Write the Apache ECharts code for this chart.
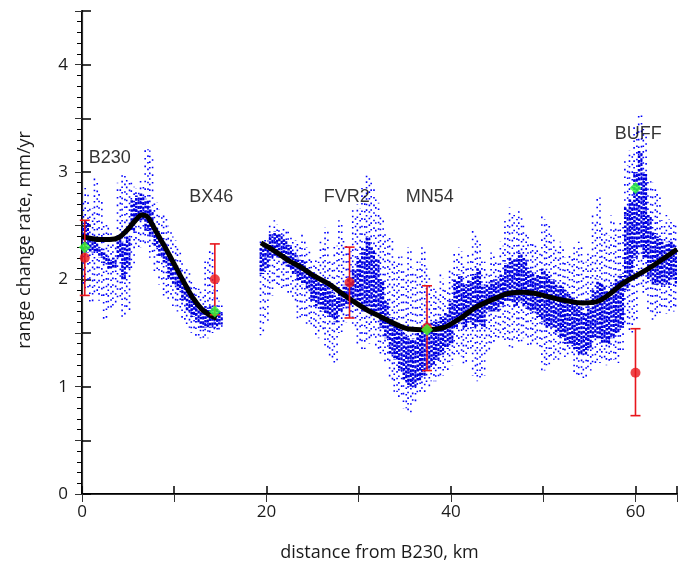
<!DOCTYPE html>
<html>
<head>
<meta charset="utf-8">
<script src="https://cdn.jsdelivr.net/npm/echarts@6/dist/echarts.min.js"></script>
<style>
  html, body { margin: 0; padding: 0; background: #fff; }
  #chart { width: 680px; height: 569px; }
</style>
</head>
<body>
<div id="chart"></div>
<script>
// measurement cloud, read per 0.5 km column: outer extent and dense core
const cloudX = [0,0.5,1,1.5,2, 2.5,3,3.5,4,4.5, 5,5.5,6,6.5,7, 7.5,8,8.5,9,9.5, 10,10.5,11,11.5,12, 12.5,13,13.5,14,14.5, 15,
  19.5,20,20.5,21,21.5, 22,22.5,23,23.5,24, 24.5,25,25.5,26,26.5, 27,27.5,28,28.5,29, 29.5,30,30.5,31,31.5, 32,32.5,33,33.5,34,
  34.5,35,35.5,36,36.5, 37,37.5,38,38.5,39, 39.5,40,40.5,41,41.5, 42,42.5,43,43.5,44, 44.5,45,45.5,46,46.5, 47,47.5,48,48.5,49,
  49.5,50,50.5,51,51.5, 52,52.5,53,53.5,54, 54.5,55,55.5,56,56.5, 57,57.5,58,58.5,59, 59.5,60,60.5,61,61.5, 62,62.5,63,63.5,64, 64.5];
const cloudHi = [2.75,2.85,2.70,2.95,2.80, 2.55,2.50,2.40,2.90,3.00, 2.95,2.90,2.85,2.95,3.25, 3.20,2.75,2.65,2.60,2.50, 2.40,2.30,2.15,2.10,2.00, 1.95,1.90,2.20,2.30,2.00, 1.80,
  2.40,2.40,2.50,2.55,2.50, 2.48,2.45,2.40,2.35,2.43, 2.30,2.20,2.20,2.35,2.48, 2.20,2.35,2.55,2.40,2.30, 2.65,2.70,2.85,2.98,2.90, 2.75,2.60,2.45,2.40,2.20,
  2.25,2.10,2.30,2.10,2.20, 2.30,2.10,1.95,1.90,2.05, 1.95,2.10,2.25,2.30,2.15, 2.25,2.45,2.40,2.20,2.10, 2.25,2.20,2.35,2.55,2.67, 2.60,2.65,2.50,2.40,2.35,
  2.30,2.60,2.55,2.45,2.30, 2.35,2.20,2.25,2.30,2.35, 2.20,2.25,2.60,2.80,2.50, 2.45,2.60,2.50,2.55,3.10, 3.20,3.45,3.57,3.40,2.95, 2.90,2.80,2.55,2.60,2.55, 2.50];
const cloudCoreHi = [2.50,2.55,2.40,2.35,2.30, 2.25,2.20,2.20,2.40,2.35, 2.40,2.75,2.78,2.80,2.75, 2.65,2.50,2.40,2.35,2.25, 2.15,2.10,2.00,1.95,1.85, 1.80,1.75,1.75,1.75,1.75, 1.70,
  2.30,2.32,2.42,2.45,2.42, 2.38,2.32,2.25,2.20,2.18, 2.12,2.05,2.00,1.98,1.95, 1.90,1.85,1.90,1.95,2.00, 2.10,2.20,2.30,2.40,2.30, 2.20,2.00,1.80,1.65,1.60,
  1.55,1.50,1.45,1.45,1.50, 1.55,1.60,1.60,1.62,1.65, 1.70,1.80,2.00,2.05,1.95, 2.00,2.05,2.10,1.95,1.95, 2.00,2.00,2.05,2.15,2.20, 2.20,2.25,2.20,2.10,2.05,
  2.05,2.10,2.05,2.00,1.95, 1.95,1.90,1.85,1.80,1.75, 1.70,1.75,1.90,2.00,1.95, 1.90,1.95,2.00,2.05,2.67, 2.75,3.00,3.20,3.00,2.60, 2.45,2.40,2.35,2.35,2.35, 2.30];
const cloudCoreLo = [2.25,2.25,2.25,2.25,2.20, 2.15,2.10,2.10,2.20,2.00, 2.10,2.45,2.55,2.55,2.45, 2.40,2.30,2.20,2.15,2.00, 1.95,1.90,1.80,1.70,1.65, 1.60,1.55,1.55,1.55,1.55, 1.58,
  2.05,2.10,2.20,2.22,2.20, 2.15,2.10,2.05,1.98,1.95, 1.90,1.80,1.75,1.70,1.68, 1.65,1.60,1.70,1.75,1.75, 1.80,1.75,1.70,1.75,1.70, 1.65,1.55,1.45,1.30,1.25,
  1.15,1.05,1.00,1.00,1.05, 1.10,1.15,1.20,1.25,1.30, 1.35,1.40,1.55,1.60,1.55, 1.60,1.55,1.60,1.55,1.70, 1.70,1.70,1.75,1.80,1.80, 1.75,1.80,1.75,1.70,1.70,
  1.65,1.60,1.55,1.55,1.50, 1.45,1.40,1.40,1.35,1.30, 1.30,1.35,1.45,1.45,1.40, 1.40,1.45,1.50,1.55,1.90, 2.00,2.20,2.30,2.20,2.00, 1.95,1.95,1.95,1.95,2.00, 1.95];
const cloudLo = [1.95,1.90,1.75,1.85,1.80, 1.60,1.70,1.75,1.80,1.65, 1.70,2.10,2.30,2.30,2.30, 2.20,2.05,1.95,1.85,1.80, 1.75,1.70,1.60,1.55,1.50, 1.45,1.45,1.45,1.50,1.50, 1.52,
  1.48,1.60,1.85,1.95,1.90, 1.90,1.85,1.80,1.60,1.65, 1.55,1.55,1.45,1.50,1.35, 1.25,1.22,1.50,1.60,1.65, 1.55,1.40,1.35,1.40,1.45, 1.35,1.30,1.22,1.05,0.95,
  0.90,0.80,0.75,0.85,0.90, 0.95,1.00,1.05,1.05,1.10, 1.15,1.20,1.30,1.28,1.20, 1.35,1.10,1.05,1.10,1.30, 1.40,1.45,1.45,1.40,1.35, 1.40,1.40,1.45,1.37,1.40,
  1.35,1.15,1.20,1.25,1.25, 1.30,1.25,1.30,1.10,1.08, 1.06,1.15,1.20,1.22,1.25, 1.20,1.25,1.22,1.30,1.55, 1.50,1.60,1.90,1.87,1.70, 1.62,1.65,1.70,1.68,1.70, 1.70];

// smoothed model curve (null = gap)
const curveX = [0,1,2,3,4,5,5.7,6.5,7,7.5,8,9,10,10.5,11,12,13,14,14.6, null,
  19.4,20,21.3,22.5,23.8,25,26.7,28,29.5,31,32.4,33.8,35.3,37.4,39.2,40.5,41.4,42.5,43.9,45,46.3,47.8,49,50,51.4,52.5,54.3,55.7,57,58.6,60,61.4,63,64.5];
const curveY = [2.40,2.38,2.37,2.37,2.39,2.47,2.54,2.60,2.59,2.53,2.45,2.30,2.14,2.06,1.98,1.83,1.72,1.66,1.64, null,
  2.34,2.31,2.24,2.17,2.11,2.04,1.96,1.88,1.79,1.71,1.65,1.59,1.54,1.53,1.55,1.61,1.66,1.73,1.79,1.83,1.87,1.88,1.87,1.85,1.82,1.80,1.78,1.79,1.85,1.96,2.03,2.10,2.19,2.28];

// GPS stations: value with error bar (red) and model value (green)
const errX = [0.3, 14.4, 29.0, 37.4, 60.0];
const errVal = [2.20, 2.00, 1.97, 1.55, 1.13];
const errLo = [1.85, 1.67, 1.64, 1.15, 0.73];
const errHi = [2.55, 2.33, 2.30, 1.94, 1.54];
const greenX = [0.3, 14.4, 37.4, 60.0];
const greenY = [2.30, 1.70, 1.53, 2.85];

const stationNames = ['B230', 'BX46', 'FVR2', 'MN54', 'BUFF'];
const stationLabelX = [3.0, 14.0, 28.7, 37.7, 60.3];
const stationLabelY = [3.13, 2.77, 2.77, 2.77, 3.35];

const chart = echarts.init(document.getElementById('chart'));
const axisFont = 'Open Sans';

const cloudData = cloudX.map((x, i) => [x, cloudLo[i], cloudCoreLo[i], cloudCoreHi[i], cloudHi[i]]);
const curveData = curveX.map((x, i) => (x === null ? [null, null] : [x, curveY[i]]));

// speckle look: vary dash phase column by column so the dots don't line up
function renderCloud(params, api) {
  const x = api.value(0);
  const lo = api.coord([x, api.value(1)]);
  const clo = api.coord([x, api.value(2)]);
  const chi = api.coord([x, api.value(3)]);
  const hi = api.coord([x, api.value(4)]);
  const k = params.dataIndex;
  const blue = '#0000ff';
  return {
    type: 'group',
    children: [
      { type: 'line', shape: { x1: lo[0] - 1.4, y1: hi[1], x2: lo[0] - 1.4, y2: lo[1] },
        style: { stroke: blue, lineWidth: 1.6, lineDash: [1.6, 4 + (k % 3)], lineDashOffset: (k * 7) % 11 } },
      { type: 'line', shape: { x1: lo[0] + 1.4, y1: hi[1] + 4, x2: lo[0] + 1.4, y2: lo[1] },
        style: { stroke: blue, lineWidth: 1.6, lineDash: [1.6, 5 + (k % 2)], lineDashOffset: (k * 5) % 9 } },
      { type: 'line', shape: { x1: clo[0] - 1, y1: chi[1], x2: clo[0] - 1, y2: clo[1] },
        style: { stroke: '#0000dd', lineWidth: 2.6, lineDash: [2.5, 1.2 + (k % 3) * 0.4], lineDashOffset: (k * 3) % 5 } },
      { type: 'line', shape: { x1: clo[0] + 1.3, y1: chi[1] + 2, x2: clo[0] + 1.3, y2: clo[1] },
        style: { stroke: '#0000dd', lineWidth: 2.2, lineDash: [3, 1.8], lineDashOffset: (k * 4) % 7 } }
    ]
  };
}

function renderErr(params, api) {
  const x = api.value(0);
  const top = api.coord([x, api.value(2)]);
  const bot = api.coord([x, api.value(1)]);
  const w = 5;
  const st = { stroke: '#e8161c', lineWidth: 1.6 };
  return {
    type: 'group',
    children: [
      { type: 'line', shape: { x1: top[0], y1: top[1], x2: bot[0], y2: bot[1] }, style: st },
      { type: 'line', shape: { x1: top[0] - w, y1: top[1], x2: top[0] + w, y2: top[1] }, style: st },
      { type: 'line', shape: { x1: bot[0] - w, y1: bot[1], x2: bot[0] + w, y2: bot[1] }, style: st }
    ]
  };
}

const option = {
  animation: false,
  backgroundColor: '#fff',
  grid: { left: 82, right: 1, top: 11, bottom: 75 },
  xAxis: [
    {
      type: 'value', min: 0, max: 64.5, interval: 10,
      name: 'distance from B230, km', nameLocation: 'middle', nameGap: 50,
      nameTextStyle: { fontFamily: axisFont, fontSize: 18, color: '#1a1a1a' },
      axisLine: { lineStyle: { color: '#000', width: 2 } },
      axisTick: { inside: true, length: 8, lineStyle: { color: '#000', width: 1.5 } },
      axisLabel: {
        margin: 10, fontFamily: axisFont, fontSize: 17, color: '#1a1a1a',
        formatter: v => (v % 20 === 0 ? String(v) : '')
      },
      splitLine: { show: false }
    },
    {
      type: 'value', position: 'top', min: 0, max: 64.5, interval: 10,
      axisLine: { show: true, lineStyle: { color: '#333', width: 1.2 } },
      axisTick: { inside: true, length: 8, lineStyle: { color: '#333' } },
      axisLabel: { show: false },
      splitLine: { show: false }
    }
  ],
  yAxis: [
    {
      type: 'value', min: 0, max: 4.5, interval: 0.5,
      name: 'range change rate, mm/yr', nameLocation: 'middle', nameGap: 48,
      nameTextStyle: { fontFamily: axisFont, fontSize: 18, color: '#1a1a1a', padding: [0, 0, 0, 25] },
      axisLine: { lineStyle: { color: '#000', width: 2 } },
      axisTick: { inside: true, length: 9, lineStyle: { color: '#000', width: 1.5 } },
      minorTick: { show: true, splitNumber: 5, length: -5, lineStyle: { color: '#000', width: 1 } },
      axisLabel: {
        margin: 14, fontFamily: axisFont, fontSize: 17, color: '#1a1a1a',
        formatter: v => (Number.isInteger(v) && v < 4.5 ? String(v) : '')
      },
      splitLine: { show: false }
    },
    {
      type: 'value', position: 'right', min: 0, max: 4.5, interval: 0.5,
      axisLine: { show: true, lineStyle: { color: '#333', width: 1.2 } },
      axisTick: { inside: true, length: 7, lineStyle: { color: '#333' } },
      axisLabel: { show: false },
      splitLine: { show: false }
    }
  ],
  series: [
    {
      type: 'custom', name: 'measurements', renderItem: renderCloud,
      data: cloudData, encode: { x: 0, y: [1, 4] }, silent: true, z: 2, clip: true
    },
    {
      type: 'line', name: 'model', data: curveData, smooth: 0.4, connectNulls: false,
      showSymbol: false, lineStyle: { color: '#000', width: 5 }, z: 3
    },
    {
      type: 'custom', name: 'error bars', renderItem: renderErr,
      data: errX.map((x, i) => [x, errLo[i], errHi[i]]), encode: { x: 0, y: [1, 2] }, z: 4
    },
    {
      type: 'scatter', name: 'observed', data: errX.map((x, i) => [x, errVal[i]]),
      symbol: 'circle', symbolSize: 10, itemStyle: { color: '#e8161c' }, z: 5
    },
    {
      type: 'scatter', name: 'predicted', data: greenX.map((x, i) => [x, greenY[i]]),
      symbol: 'diamond', symbolSize: 12, itemStyle: { color: '#33ff33' }, z: 6
    },
    {
      type: 'scatter', name: 'stations', symbolSize: 0, z: 7,
      data: stationNames.map((n, i) => ({ name: n, value: [stationLabelX[i], stationLabelY[i]] })),
      label: {
        show: true, position: 'inside', formatter: p => p.name,
        fontFamily: 'Liberation Sans', fontSize: 18, color: '#000',
        textBorderWidth: 0
      }
    }
  ]
};

chart.setOption(option);
</script>
</body>
</html>
